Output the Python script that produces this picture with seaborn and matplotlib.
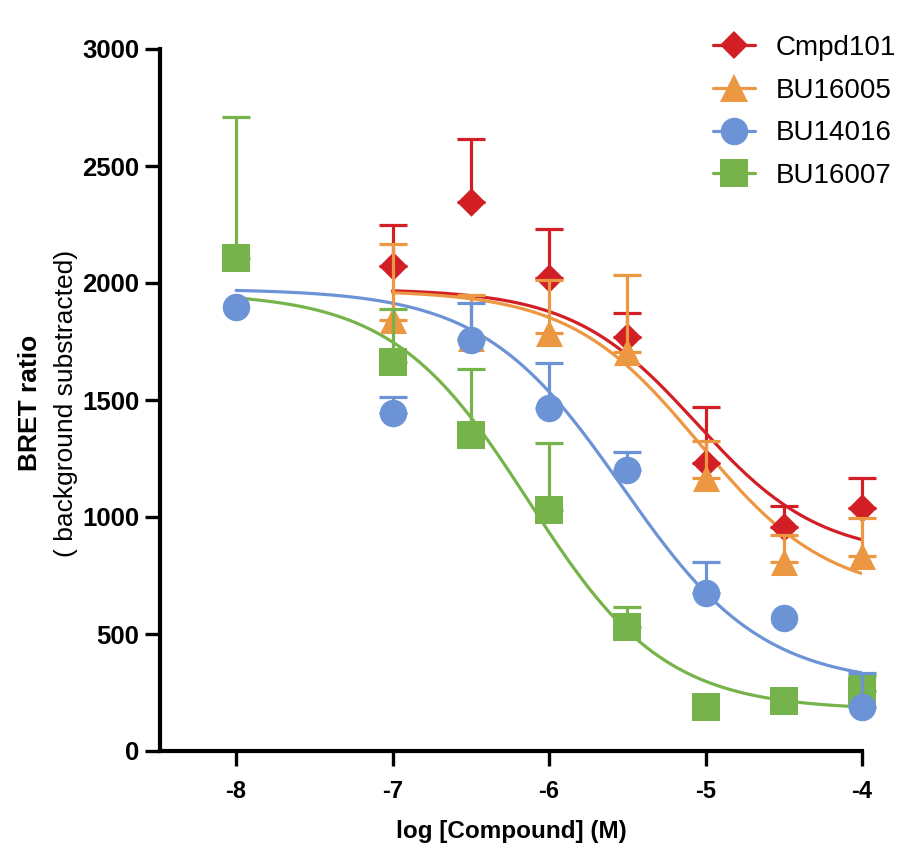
import numpy as np
import pandas as pd
import matplotlib
matplotlib.use("Agg")
import matplotlib.pyplot as plt
from matplotlib.lines import Line2D
import seaborn as sns

# ---- data: log concentration, mean BRET ratio and upper SEM ----
compounds = ["Cmpd101", "BU16005", "BU14016", "BU16007"]

cmpd101_x = [-7, -6.5, -6, -5.5, -5, -4.5, -4]
cmpd101_mean = [2074, 2347, 2020, 1771, 1231, 959, 1040]
cmpd101_sem = [174, 267, 211, 101, 240, 88, 126]

bu16005_x = [-7, -6.5, -6, -5.5, -5, -4.5, -4]
bu16005_mean = [1842, 1765, 1786, 1706, 1168, 809, 833]
bu16005_sem = [325, 184, 227, 328, 157, 114, 163]

bu14016_x = [-8, -7, -6.5, -6, -5.5, -5, -4.5, -4]
bu14016_mean = [1899, 1443, 1756, 1464, 1201, 677, 567, 189]
bu14016_sem = [0, 71, 158, 195, 78, 132, 0, 145]

bu16007_x = [-8, -7, -6.5, -6, -5.5, -5, -4.5, -4]
bu16007_mean = [2105, 1664, 1350, 1030, 531, 187, 215, 255]
bu16007_sem = [606, 224, 281, 285, 86, 0, 0, 65]

# four-parameter logistic fit: top, bottom, logIC50, Hill slope, fitted x-range
fit_top = [1975, 1970, 1975, 1960]
fit_bottom = [830, 660, 280, 175]
fit_logic50 = [-5.06, -5.04, -5.53, -6.13]
fit_hill = [1.10, 1.05, 0.97, 1.00]
fit_start = [-7, -7, -8, -8]
fit_end = -4

colors = ["#D21F26", "#EC9741", "#6B93D6", "#76B44B"]
markers = ["D", "^", "o", "s"]
marker_sizes = [14.5, 19.5, 19.8, 20.8]   # points

xs = [cmpd101_x, bu16005_x, bu14016_x, bu16007_x]
means = [cmpd101_mean, bu16005_mean, bu14016_mean, bu16007_mean]
sems = [cmpd101_sem, bu16005_sem, bu14016_sem, bu16007_sem]

points = pd.concat(
    [pd.DataFrame({"compound": c, "logc": x, "ratio": m, "sem": s})
     for c, x, m, s in zip(compounds, xs, means, sems)],
    ignore_index=True,
)

def four_pl(x, top, bottom, logic50, hill):
    return bottom + (top - bottom) / (1 + 10 ** ((x - logic50) * hill))

curves = []
for c, t, b, l, h, x0 in zip(compounds, fit_top, fit_bottom, fit_logic50, fit_hill, fit_start):
    grid = np.linspace(x0, fit_end, 300)
    curves.append(pd.DataFrame({"compound": c, "logc": grid,
                                "ratio": four_pl(grid, t, b, l, h)}))
curves = pd.concat(curves, ignore_index=True)

# ---- style ----
sns.set_style("ticks")
plt.rcParams["font.family"] = ["Liberation Sans", "DejaVu Sans"]
plt.rcParams["text.color"] = "black"
plt.rcParams["axes.labelcolor"] = "black"
plt.rcParams["xtick.color"] = "black"
plt.rcParams["ytick.color"] = "black"

fig = plt.figure(figsize=(9.01, 8.5), dpi=100)
ax = fig.add_axes([160 / 901, 1 - 751 / 850, (862 - 160) / 901, (751 - 49) / 850])

palette = dict(zip(compounds, colors))

# fitted curves
sns.lineplot(data=curves, x="logc", y="ratio", hue="compound", palette=palette,
             hue_order=compounds, lw=2.3, ax=ax, legend=False, zorder=2,
             estimator=None, sort=True)

# points with upward error bars; drawing order red, orange, green, blue
draw_order = ["Cmpd101", "BU16005", "BU16007", "BU14016"]
for k, name in enumerate(draw_order):
    i = compounds.index(name)
    sub = points[points["compound"] == name]
    with_err = sub[sub["sem"] > 0]
    eb = ax.errorbar(with_err["logc"], with_err["ratio"],
                     yerr=[np.zeros(len(with_err)), with_err["sem"]],
                     fmt="none", ecolor=colors[i], elinewidth=2.3,
                     capsize=9.8, capthick=2.3, zorder=3 + 2 * k)
    for art in eb.get_children():
        art.set_clip_on(False)
    sns.scatterplot(data=sub, x="logc", y="ratio", marker=markers[i],
                    s=marker_sizes[i] ** 2, color=colors[i], linewidth=0,
                    ax=ax, legend=False, zorder=4 + 2 * k)
    ax.collections[-1].set_clip_on(False)

# axes
ax.set_xlim(-8.486, -4.0)
ax.set_ylim(0, 3000)
ax.set_xticks([-8, -7, -6, -5, -4])
ax.set_xticklabels(["-8", "-7", "-6", "-5", "-4"])
ax.set_yticks([0, 500, 1000, 1500, 2000, 2500, 3000])
for side in ["top", "right"]:
    ax.spines[side].set_visible(False)
for side in ["left", "bottom"]:
    ax.spines[side].set_linewidth(3.0)
    ax.spines[side].set_color("black")
ax.tick_params(axis="both", length=11, width=2.4, color="black", labelcolor="black")
ax.tick_params(axis="x", pad=10)
ax.tick_params(axis="y", pad=4)
for lab in ax.get_yticklabels():
    lab.set_fontsize(18.5)
    lab.set_fontweight("bold")
for lab in ax.get_xticklabels():
    lab.set_fontsize(17)
    lab.set_fontweight("bold")

ax.set_xlabel("log [Compound] (M)", fontsize=17.5, fontweight="bold",
              labelpad=12, color="black")
ax.set_ylabel("")
fig.text(30 / 901, 1 - 403 / 850, "BRET ratio", rotation=90, ha="center",
         va="center", fontsize=19, fontweight="bold", color="black")
fig.text(66 / 901, 1 - 403 / 850, "( background substracted)", rotation=90,
         ha="center", va="center", fontsize=19, color="black")

# legend: marker with a short line through it
handles = [Line2D([0], [0], color=colors[i], lw=2.3, marker=markers[i],
                  markersize=marker_sizes[i], markeredgewidth=0)
           for i in range(len(compounds))]
leg = fig.legend(handles, compounds, loc="upper left",
                 bbox_to_anchor=(713 / 901, 1 - 35 / 850), frameon=False,
                 fontsize=20, handlelength=1.5, handletextpad=0.75,
                 labelspacing=0.6, borderpad=0, borderaxespad=0)
for t in leg.get_texts():
    t.set_color("black")

fig.savefig("out.png", dpi=100)
